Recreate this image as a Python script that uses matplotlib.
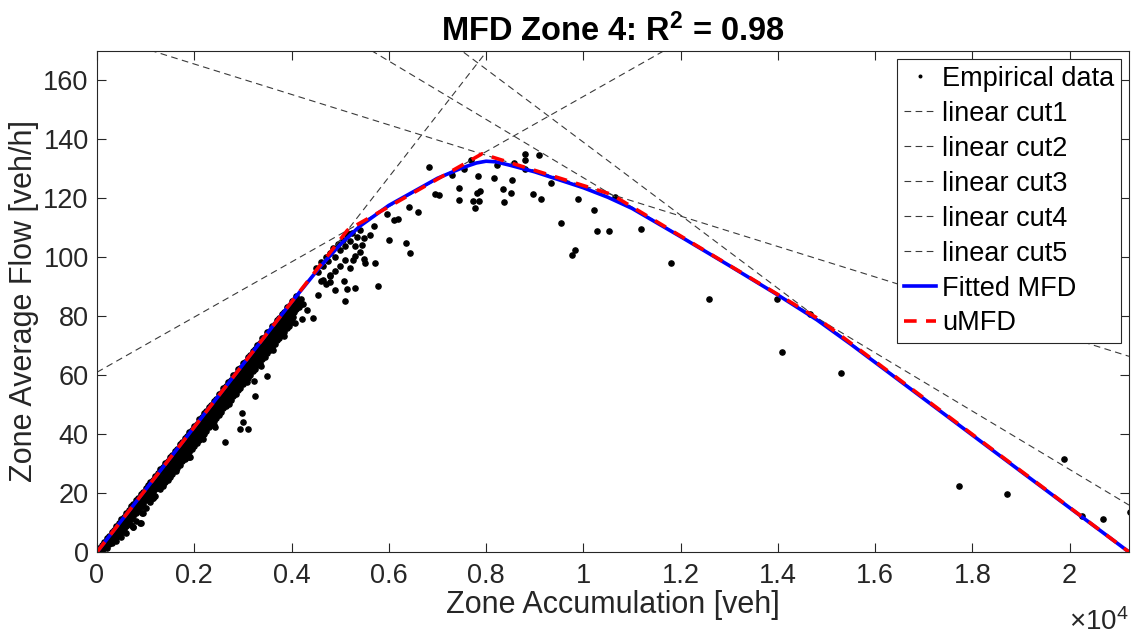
import numpy as np
import matplotlib.pyplot as plt

plt.rcParams['font.family'] = ['Liberation Sans', 'DejaVu Sans']
plt.rcParams['mathtext.fontset'] = 'custom'
plt.rcParams['mathtext.rm'] = 'Liberation Sans'
plt.rcParams['mathtext.bf'] = 'Liberation Sans:bold'
plt.rcParams['mathtext.it'] = 'Liberation Sans:italic'

# empirical data: dense band (x, several y per x)
band_x = [50, 100, 150, 200, 250, 300, 350, 400, 450, 500, 550, 600, 650, 700, 750, 800,
          850, 900, 950, 1000, 1050, 1100, 1150, 1200, 1250, 1300, 1350, 1400, 1450, 1500,
          1550, 1600, 1650, 1700, 1750, 1800, 1850, 1900, 1950, 2000, 2050, 2100, 2150, 2200,
          2250, 2300, 2350, 2400, 2450, 2500, 2550, 2600, 2650, 2700, 2750, 2800, 2850, 2900,
          2950, 3000, 3050, 3100, 3150, 3200, 3250, 3300, 3350, 3400, 3450, 3500, 3550, 3600,
          3650, 3700, 3750, 3800, 3850, 3900, 3950, 4000, 4050, 4100, 4150, 4200]
band_y = [[0.5, 1.2], [1.0, 2.5, 0.3], [2.0, 3.5, 1.2], [2.8, 4.6, 1.5], [3.9, 5.5, 2.6],
          [4.5, 6.8, 3.2], [5.7, 7.5, 4.1], [6.4, 8.9, 5.0, 3.8], [7.6, 9.8, 6.2],
          [8.4, 11.2, 6.9, 5.2], [9.8, 12.0, 7.8], [10.9, 13.1, 8.7, 6.5], [12.0, 14.3, 9.9],
          [12.8, 15.5, 11.2, 9.0], [14.2, 16.3, 12.1, 8.6], [15.1, 17.5, 13.2, 10.5],
          [16.4, 18.3, 14.0], [17.2, 19.8, 15.3, 9.7], [18.6, 20.5, 16.4, 13.1],
          [19.4, 21.8, 17.5, 15.0], [20.7, 22.6, 18.3], [21.5, 23.9, 19.6, 17.0],
          [22.8, 24.5, 20.4, 18.2], [23.7, 25.9, 21.5, 19.1], [24.9, 26.8, 22.6],
          [25.6, 28.0, 23.8, 21.4], [27.0, 28.9, 24.7, 22.5], [27.9, 30.1, 25.8, 23.6],
          [29.1, 30.8, 26.9, 24.3], [29.8, 32.2, 27.7, 25.6], [31.2, 33.0, 28.8, 26.4],
          [32.0, 34.4, 29.9, 27.8], [33.3, 35.1, 31.0, 28.6], [34.1, 36.5, 32.2, 29.5],
          [35.4, 37.2, 33.0, 30.8], [36.2, 38.6, 34.1, 31.7], [37.5, 39.3, 35.2, 32.4],
          [38.3, 40.8, 36.4, 33.9, 32.3], [39.6, 41.4, 37.2, 34.8], [40.5, 42.9, 38.3, 36.0],
          [41.7, 43.6, 39.5, 36.9], [42.6, 45.0, 40.4, 38.1], [43.8, 45.7, 41.6, 39.0],
          [44.7, 47.1, 42.5, 40.2], [45.9, 47.8, 43.7, 41.1], [46.8, 49.3, 44.6, 42.4],
          [48.0, 49.9, 45.8, 43.2], [48.9, 51.4, 46.7, 44.5, 43.0], [50.1, 52.0, 47.9, 45.3],
          [51.0, 53.5, 48.8, 46.6], [52.2, 54.1, 50.0, 47.4], [53.1, 55.6, 50.9, 48.7],
          [54.3, 56.2, 52.1, 49.5], [55.2, 57.7, 53.0, 50.8], [56.4, 58.3, 54.2, 51.6],
          [57.3, 59.9, 55.1, 52.9], [58.5, 60.4, 56.3, 53.7], [59.4, 62.0, 57.2, 55.0],
          [60.6, 62.5, 58.4, 55.8], [61.5, 64.1, 59.3, 57.1], [62.7, 64.6, 60.5, 57.9],
          [63.6, 66.2, 61.4, 59.2], [64.8, 66.7, 62.6, 60.0], [65.7, 68.3, 63.5, 61.3],
          [66.9, 68.8, 64.7, 62.1], [67.8, 70.4, 65.6, 63.4], [69.0, 70.9, 66.8, 64.2],
          [69.9, 72.5, 67.7, 65.5], [71.1, 73.0, 68.9, 66.3], [72.0, 74.6, 69.8, 67.6],
          [73.2, 75.1, 71.0, 68.4], [74.1, 76.7, 71.9, 69.7], [75.3, 77.2, 73.1, 70.5],
          [76.2, 78.8, 74.0, 71.8], [77.4, 79.3, 75.2, 72.6], [78.3, 80.9, 76.1, 73.9],
          [79.5, 81.4, 77.3, 74.7], [80.4, 83.0, 78.2, 76.0], [81.6, 83.5, 79.4, 76.8],
          [82.5, 85.1, 80.3, 78.1], [83.7, 85.6, 81.5], [84.6, 86.8, 82.4], [85.2, 83.0],
          [86.0, 84.1]]

# empirical data: scattered points
sc_x = [748, 885, 920, 748, 1159, 1910, 2634, 2940, 3010, 3110, 2977, 3250, 3490, 3237,
        4438, 4210, 5090, 4897, 4554, 5138, 5310, 5775, 5720, 5514, 6440, 4790, 4245, 4040,
        4657, 4794, 5274, 5080, 4500, 4550, 4600, 4650, 4700, 4750, 4800, 4850, 4900, 4950,
        5000, 5050, 5100, 5150, 5200, 5250, 5300, 5350, 5400, 5450, 4600, 4700, 4800, 4900,
        5000, 5100, 5200, 5300, 5500, 5960, 6100, 6190, 6406, 6600, 5686, 5617, 6008, 6350,
        5480, 5410, 5138, 6817, 6955, 7037, 7435, 7435, 7723, 7847, 7778, 7812, 7880, 7826,
        7689, 7538, 7298, 8167, 8216, 8348, 8360, 8512, 8532, 8580, 8807, 8807, 8807, 9080,
        8965, 9130, 9335, 9540, 9890, 10226, 10280, 10520, 10660, 11187, 11800, 9767, 9835,
        12578, 13985, 14670, 14088, 15288, 17723, 18718, 19883, 20247, 20693, 21235,
        1350, 1620, 2180, 2420, 2710, 3080, 3380, 3620, 3850, 4080, 4320]
sc_y = [8.6, 9.7, 13.1, 13.1, 18.2, 32.3, 37.4, 41.6, 44.0, 41.9, 47.0, 52.9, 59.7, 58.1,
        79.4, 78.9, 85.2, 89.0, 87.3, 89.4, 89.7, 90.2, 98.1, 97.9, 101.5, 91.6, 84.3, 79.8,
        92.2, 93.9, 99.0, 92.0, 96.5, 95.0, 98.5, 97.0, 100.2, 98.8, 101.5, 103.0, 100.0, 104.5,
        102.5, 106.0, 104.0, 107.5, 105.5, 108.2, 103.8, 106.8, 101.8, 104.2, 92.0, 90.8, 93.5, 95.5,
        97.2, 99.0, 96.4, 100.5, 99.5, 114.8, 112.8, 112.9, 117.1, 115.4, 110.7, 107.7, 105.8, 104.9,
        106.5, 109.4, 108.2, 130.6, 121.6, 121.2, 123.5, 119.3, 119.0, 119.2, 116.8, 121.8, 122.5, 127.5,
        132.9, 130.1, 128.0, 127.0, 131.2, 123.3, 118.9, 121.9, 126.1, 132.1, 134.9, 133.0, 129.8, 134.6,
        121.6, 119.8, 125.1, 111.8, 119.9, 116.0, 108.9, 108.8, 120.4, 109.7, 97.9, 100.7, 102.4,
        86.0, 85.8, 80.7, 67.7, 60.9, 22.5, 19.6, 31.4, 12.3, 11.2, 13.5,
        23.0, 27.5, 38.2, 42.5, 50.3, 57.6, 63.1, 68.5, 73.2, 77.6, 82.1]

# linear cuts: q = a + b * k
cut_a = [0.0, 61.0, 175.9, 226.0, 263.0]
cut_b = [0.0212, 0.009356, -0.00516, -0.0099, -0.012394]
cut_names = ['linear cut1', 'linear cut2', 'linear cut3', 'linear cut4', 'linear cut5']

# uMFD vertices (lower envelope of the cuts)
umfd_x = [0, 5150, 7915, 10570, 14835, 21220]
umfd_y = [0, 109.2, 135.1, 121.4, 79.1, 0]

# fitted MFD curve
fit_x = [0, 500, 1000, 2000, 3000, 4000, 4600, 5000, 5400, 6000, 7000, 7500, 7800, 8000,
         8200, 8500, 9000, 10000, 10500, 11000, 12000, 13000, 14000, 14800, 15500, 17000,
         19000, 21220]
fit_y = [0, 10.6, 21.2, 42.4, 63.6, 84.8, 97.0, 104.3, 110.5, 117.6, 126.8, 130.3, 132.0, 132.6,
         132.4, 131.2, 129.0, 123.6, 120.4, 116.6, 107.0, 97.2, 87.2, 78.8, 70.5, 52.0,
         27.3, 0]

x_max = 21220
x_ticks = [0, 2000, 4000, 6000, 8000, 10000, 12000, 14000, 16000, 18000, 20000]
x_tick_labels = ['0', '0.2', '0.4', '0.6', '0.8', '1', '1.2', '1.4', '1.6', '1.8', '2']
y_ticks = [0, 20, 40, 60, 80, 100, 120, 140, 160]

emp_x = []
emp_y = []
for xv, ys in zip(band_x, band_y):
    for yv in ys:
        emp_x.append(xv)
        emp_y.append(yv)
emp_x += sc_x
emp_y += sc_y

ink = '#262626'
fig = plt.figure(figsize=(11.35, 6.38), dpi=100)
ax = fig.add_axes([97 / 1135, 86 / 638, 1032 / 1135, 501 / 638])

ax.plot(emp_x, emp_y, '.', color='k', ms=7.5, label='Empirical data')
xs = np.array([0, x_max])
for a, b, nm in zip(cut_a, cut_b, cut_names):
    ax.plot(xs, a + b * xs, color='#3a3a3a', lw=0.8, ls=(0, (6, 4)), label=nm)
ax.plot(fit_x, fit_y, color='#0000ff', lw=2.6, label='Fitted MFD')
ax.plot(umfd_x, umfd_y, color='#ff0000', lw=2.6, ls=(0, (3.5, 2.6)), label='uMFD')

ax.set_xlim(0, x_max)
ax.set_ylim(0, 170)
ax.set_xticks(x_ticks)
ax.set_xticklabels(x_tick_labels)
ax.set_yticks(y_ticks)
ax.tick_params(direction='in', top=True, right=True, length=6.5, width=0.8,
               colors=ink, labelsize=19.5, pad=6)
ax.tick_params(axis='x', pad=8)
for s in ax.spines.values():
    s.set_color(ink)
    s.set_linewidth(0.8)

ax.set_xlabel('Zone Accumulation [veh]', fontsize=22, color=ink, labelpad=1)
ax.set_ylabel('Zone Average Flow [veh/h]', fontsize=22, color=ink, labelpad=3)
ax.set_title(r'MFD Zone 4: R$^{\mathbf{2}}$ = 0.98', fontsize=23.5, fontweight='bold',
             color='k', pad=7)
ax.text(1.0, -0.14, '×10$^{4}$', transform=ax.transAxes, ha='right', va='center',
        fontsize=20, color=ink)

leg = ax.legend(loc='upper right', fontsize=19.5, frameon=True, fancybox=False,
                edgecolor=ink, framealpha=1, borderaxespad=0.3, handlelength=1.2,
                handletextpad=0.2, labelspacing=0.33, borderpad=0.25, markerscale=0.5)
leg.get_frame().set_linewidth(0.8)

fig.savefig('out.png', dpi=100)
